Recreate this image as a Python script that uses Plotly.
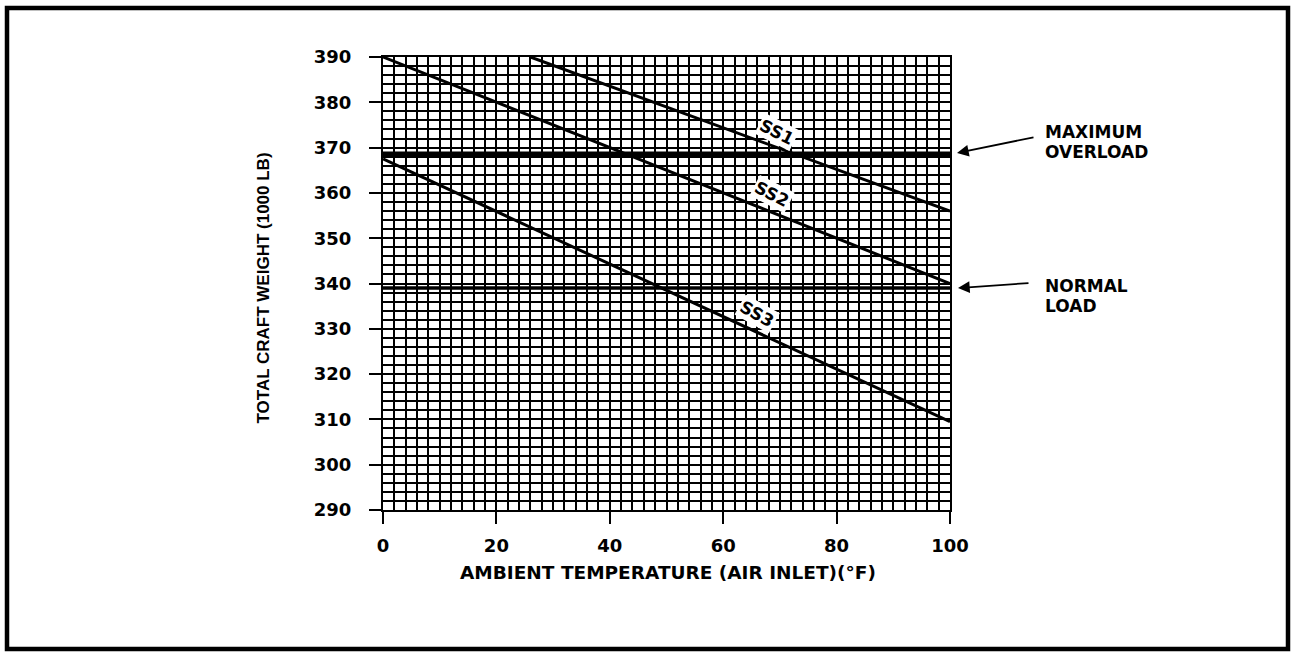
import plotly.graph_objects as go

# ---- data ----
ss1_temp = [26, 100]
ss1_weight = [390, 356]
ss2_temp = [0, 100]
ss2_weight = [390, 340]
ss3_temp = [0, 100]
ss3_weight = [367.5, 309.5]
limit_temp = [0, 100]
max_overload = 368.5
normal_load = 339
x_ticks = [0, 20, 40, 60, 80, 100]
y_ticks = [290, 300, 310, 320, 330, 340, 350, 360, 370, 380, 390]
sea_labels = ["SS1", "SS2", "SS3"]

W, H = 1293, 654
L, R, T, B = 383, 950, 57, 510
FONT = "DejaVu Sans"

fig = go.Figure()
for xs, ys in [(ss1_temp, ss1_weight), (ss2_temp, ss2_weight), (ss3_temp, ss3_weight)]:
    fig.add_trace(go.Scatter(x=xs, y=ys, mode="lines",
                             line=dict(color="black", width=3), showlegend=False,
                             hoverinfo="skip"))
fig.add_trace(go.Scatter(x=limit_temp, y=[max_overload] * 2, mode="lines",
                         line=dict(color="black", width=6), showlegend=False))
fig.add_trace(go.Scatter(x=limit_temp, y=[normal_load] * 2, mode="lines",
                         line=dict(color="black", width=3.5), showlegend=False))

axis_common = dict(showgrid=True, gridcolor="black", gridwidth=2.3,
                   showline=True, linecolor="black", linewidth=2, mirror=True,
                   ticks="outside", ticklen=12, tickwidth=2, tickcolor="black",
                   zeroline=False,
                   tickfont=dict(family=FONT, size=18, color="black", weight="bold"))

fig.update_xaxes(range=[0, 100], tickvals=x_ticks, ticktext=[str(v) for v in x_ticks],
                 minor=dict(dtick=2, tick0=0, showgrid=True, gridcolor="black", gridwidth=2.3),
                 ticklabelstandoff=6, **axis_common)
fig.update_yaxes(range=[290, 390], tickvals=y_ticks, ticktext=[str(v) for v in y_ticks],
                 minor=dict(dtick=2, tick0=290, showgrid=True, gridcolor="black", gridwidth=2.3),
                 ticklabelstandoff=14, **axis_common)


def pp(px, py):
    """pixel -> paper coordinates"""
    return (px - L) / (R - L), (B - py) / (B - T)


ann = []
# series labels on the lines
label_pos = [(69.5, 373.4, 27), (68.6, 359.7, 27), (66.0, 333.2, 29)]
for txt, (lx, ly, ang) in zip(sea_labels, label_pos):
    ann.append(dict(x=lx, y=ly, xref="x", yref="y", text="<b>%s</b>" % txt,
                    showarrow=False, textangle=ang, bgcolor="white",
                    font=dict(family=FONT, size=17, color="black")))

# arrows (tip just right of plot edge)
for tip, tail in [((957, 153), (1035, 137)), ((958, 288), (1030, 283))]:
    tx, ty = pp(*tip)
    ann.append(dict(x=tx, y=ty, xref="paper", yref="paper",
                    ax=tail[0] - tip[0], ay=tail[1] - tip[1],
                    text="", showarrow=True,
                    arrowhead=2, arrowsize=1.3, arrowwidth=1.8, arrowcolor="black"))

# right-hand texts
for txt, top in [("MAXIMUM", 121), ("OVERLOAD", 141), ("NORMAL", 275), ("LOAD", 295)]:
    x, y = pp(1044, top)
    ann.append(dict(x=x, y=y, xref="paper", yref="paper", xanchor="left", yanchor="top",
                    text="<b>%s</b>" % txt, showarrow=False, borderpad=0,
                    font=dict(family=FONT, size=17, color="black")))

# axis titles
x, y = pp(251, 288)
ann.append(dict(x=x, y=y, xref="paper", yref="paper", text="<b>TOTAL CRAFT WEIGHT (1000 LB)</b>",
                textangle=-90, showarrow=False,
                font=dict(family="Liberation Sans", size=17, color="black")))
x, y = pp(668, 585)
ann.append(dict(x=x, y=y, xref="paper", yref="paper", text="<b>AMBIENT TEMPERATURE (AIR INLET)(°F)</b>",
                showarrow=False,
                font=dict(family=FONT, size=18.5, color="black")))

fig.update_layout(
    width=W, height=H,
    margin=dict(l=L, r=W - R, t=T, b=H - B, pad=0),
    plot_bgcolor="white", paper_bgcolor="white",
    annotations=ann,
    showlegend=False,
)

# outer frame around the whole figure
x0, y0 = pp(7, 649)
x1, y1 = pp(1288, 8)
fig.add_shape(type="rect", xref="paper", yref="paper", x0=x0, y0=y0, x1=x1, y1=y1,
              line=dict(color="black", width=4.5), layer="above")

fig.write_html("out.html", config={"displayModeBar": False},
               post_script="document.body.style.margin='0';")
